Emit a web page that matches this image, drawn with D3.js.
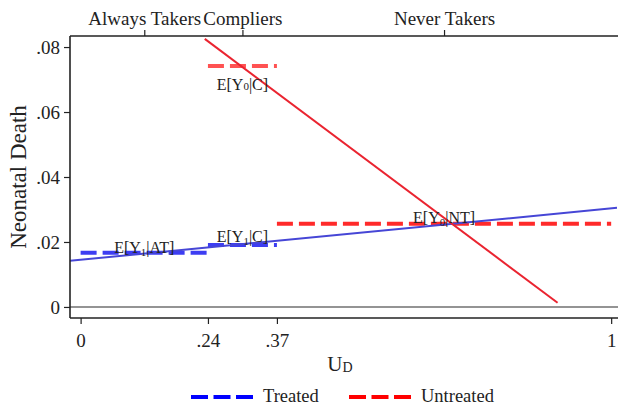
<!DOCTYPE html>
<html>
<head>
<meta charset="utf-8">
<script src="https://cdn.jsdelivr.net/npm/d3@7"></script>
<style>
  html, body { margin: 0; padding: 0; background: #fff; }
  svg { display: block; }
  text { font-family: "Liberation Serif", "DejaVu Serif", serif; fill: #222; }
</style>
</head>
<body>
<svg id="chart" width="618" height="407"></svg>
<script>
// Marginal treatment effect lines over U_D
const mteTreatedU = [-0.02, 1.011];
const mteTreatedY = [0.0142, 0.0305];
const mteUntreatedU = [0.234, 0.899];
const mteUntreatedY = [0.0825, 0.0013];

// Group means: start/end of U_D interval, level, label, series
const groupNames  = ["E[Y₁|AT]", "E[Y₁|C]", "E[Y₀|C]", "E[Y₀|NT]"];
const groupStart  = [0, 0.24, 0.24, 0.37];
const groupEnd    = [0.24, 0.37, 0.37, 1];
const groupValue  = [0.0167, 0.0191, 0.0742, 0.0256];
const groupSeries = ["Treated", "Treated", "Untreated", "Untreated"];

// Axes
const xTicks = [0, 0.24, 0.37, 1];
const xTickLabels = ["0", ".24", ".37", "1"];
const yTicks = [0, 0.02, 0.04, 0.06, 0.08];
const yTickLabels = ["0", ".02", ".04", ".06", ".08"];
const topGroups = ["Always Takers", "Compliers", "Never Takers"];
const topCenters = [0.12, 0.305, 0.685];

const legendLabels = ["Treated", "Untreated"];

const svg = d3.select("#chart");
const L = 70, R = 618, T = 36, B = 318;

const x = d3.scaleLinear().domain([-0.02, 1.011]).range([L, 617]);
const y = d3.scaleLinear().domain([-0.0034, 0.0834]).range([B, T]);

const colors = {
  Treated: "#3d3df2", Untreated: "#ff2a2a",
  treatedLine: "#4646d6", untreatedLine: "#ea2430"
};

svg.append("defs").append("clipPath").attr("id", "plot")
  .append("rect").attr("x", L).attr("y", T).attr("width", R - L).attr("height", B - T);

// Zero reference line
svg.append("line")
  .attr("x1", L).attr("x2", R).attr("y1", y(0)).attr("y2", y(0))
  .attr("stroke", "#707070").attr("stroke-width", 1.6);

const plot = svg.append("g").attr("clip-path", "url(#plot)");

// Group mean dashed segments
plot.selectAll("line.seg").data(groupNames.map((n, i) => i)).join("line")
  .attr("class", "seg")
  .attr("x1", i => x(groupStart[i])).attr("x2", i => x(groupEnd[i]))
  .attr("y1", i => y(groupValue[i])).attr("y2", i => y(groupValue[i]))
  .attr("stroke", i => groupSeries[i] === "Treated" ? colors.Treated : (i === 2 ? "#ff5252" : colors.Untreated))
  .attr("stroke-width", 4)
  .attr("stroke-dasharray", "16,6");

// MTE lines
const line = d3.line().x(d => x(d[0])).y(d => y(d[1]));
plot.append("path")
  .attr("d", line(mteTreatedU.map((u, i) => [u, mteTreatedY[i]])))
  .attr("stroke", colors.treatedLine).attr("stroke-width", 2).attr("fill", "none");
plot.append("path")
  .attr("d", line(mteUntreatedU.map((u, i) => [u, mteUntreatedY[i]])))
  .attr("stroke", colors.untreatedLine).attr("stroke-width", 2).attr("fill", "none");

// Group labels (subscript digits rendered as tspans)
const labelDy = [0, -3, 13, -1];
groupNames.forEach((name, i) => {
  const cx = x((groupStart[i] + groupEnd[i]) / 2);
  const cy = y(groupValue[i]) + labelDy[i];
  const t = svg.append("text")
    .attr("x", cx).attr("y", cy)
    .attr("text-anchor", "middle")
    .attr("font-size", 16)
    .attr("dominant-baseline", i === 2 ? "hanging" : "auto");
  const m = name.match(/^(E\[Y)([₀₁])(\|.*)$/);
  t.append("tspan").text(m[1]);
  t.append("tspan").text(m[2] === "₀" ? "0" : "1").attr("font-size", 11).attr("dy", 3);
  t.append("tspan").text(m[3]).attr("dy", -3);
});

// Frame: left side
svg.append("line").attr("x1", L).attr("x2", L).attr("y1", T).attr("y2", B)
  .attr("stroke", "#222").attr("stroke-width", 1.6);

// Bottom axis
const xAxis = d3.axisBottom(x).tickValues(xTicks)
  .tickFormat((d, i) => xTickLabels[i]).tickSize(6).tickSizeOuter(0).tickPadding(10);
const gx = svg.append("g").attr("transform", `translate(0,${B})`).call(xAxis);
gx.select(".domain").attr("d", `M${L},0H${R}`).attr("stroke", "#222").attr("stroke-width", 1.6);
gx.selectAll(".tick line").attr("stroke", "#222").attr("stroke-width", 1.2);
gx.selectAll(".tick text").attr("font-size", 19).attr("font-family", "Liberation Serif").attr("fill", "#222");

// Left axis
const yAxis = d3.axisLeft(y).tickValues(yTicks)
  .tickFormat((d, i) => yTickLabels[i]).tickSize(6).tickSizeOuter(0).tickPadding(4);
const gy = svg.append("g").attr("transform", `translate(${L},0)`).call(yAxis);
gy.select(".domain").remove();
gy.selectAll(".tick line").attr("stroke", "#222").attr("stroke-width", 1.2);
gy.selectAll(".tick text").attr("font-size", 19).attr("font-family", "Liberation Serif").attr("fill", "#222");

// Top axis with group names
const xTop = d3.axisTop(x).tickValues(topCenters)
  .tickFormat((d, i) => topGroups[i]).tickSize(6).tickSizeOuter(0).tickPadding(5);
const gt = svg.append("g").attr("transform", `translate(0,${T})`).call(xTop);
gt.select(".domain").attr("d", `M${L},0H${R}`).attr("stroke", "#222").attr("stroke-width", 1.6);
gt.selectAll(".tick line").attr("stroke", "#222").attr("stroke-width", 1.2);
gt.selectAll(".tick text").attr("font-size", 19).attr("font-family", "Liberation Serif").attr("fill", "#222");

// Axis titles
svg.append("text")
  .attr("transform", `translate(26,${(T + B) / 2}) rotate(-90)`)
  .attr("text-anchor", "middle").attr("font-size", 23).text("Neonatal Death");

const xt = svg.append("text").attr("x", (L + R) / 2 - 4).attr("y", 371)
  .attr("text-anchor", "middle").attr("font-size", 21);
xt.append("tspan").text("U");
xt.append("tspan").text("D").attr("font-size", 14).attr("dy", 1);

// Legend
const legendX = [191, 349];
legendLabels.forEach((lab, i) => {
  svg.append("line")
    .attr("x1", legendX[i]).attr("x2", legendX[i] + 62)
    .attr("y1", 397).attr("y2", 397)
    .attr("stroke", lab === "Treated" ? "#0000ff" : "#ff0000")
    .attr("stroke-width", 4).attr("stroke-dasharray", "17,5.5");
  svg.append("text").attr("x", legendX[i] + 72).attr("y", 402)
    .attr("font-size", 18.5).text(lab);
});
</script>
</body>
</html>
